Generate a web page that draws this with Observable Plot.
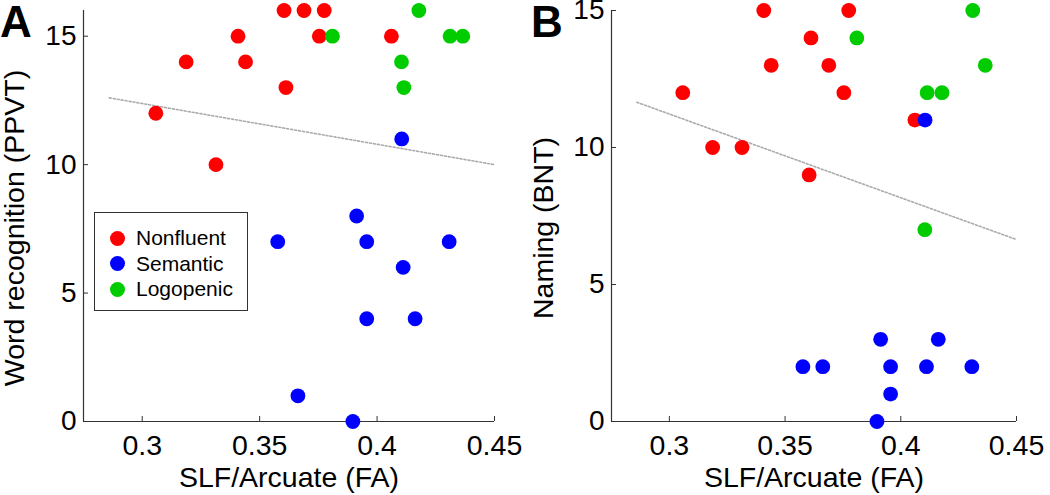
<!DOCTYPE html>
<html>
<head>
<meta charset="utf-8">
<script src="https://cdn.jsdelivr.net/npm/d3@7"></script>
<script src="https://cdn.jsdelivr.net/npm/@observablehq/plot@0.6"></script>
<style>
  html, body { margin: 0; padding: 0; background: #fff; }
  #wrap { position: relative; width: 1050px; height: 495px; display: flex; font-family: "Liberation Sans", Arial, sans-serif; }
  .letter { position: absolute; top: 0; font: bold 44px/1 "Liberation Sans", Arial, sans-serif; color: #000; }
  #legend { position: absolute; left: 94px; top: 212px; width: 152px; height: 97px; border: 1px solid #333; background: #fff; }
  .item { position: absolute; left: 15px; height: 26px; display: flex; align-items: center; font-size: 21px; color: #000; }
  .item span.sw { display: inline-block; width: 15px; height: 15px; border-radius: 50%; margin-right: 11px; }
</style>
</head>
<body>
<div id="wrap"></div>
<script>
// Groups and colours
const groups = ["Nonfluent", "Semantic", "Logopenic"];
const groupColors = ["#ff0000", "#0000ff", "#00cc00"];

// SLF/Arcuate FA per patient, by group
const nonfluentFA = [0.3058, 0.3187, 0.3314, 0.3408, 0.3440, 0.3604, 0.3612, 0.3689, 0.3754, 0.3775, 0.4061];
const semanticFA  = [0.3577, 0.3663, 0.3897, 0.3913, 0.3956, 0.3956, 0.4105, 0.4111, 0.4162, 0.4307];
const logopenicFA = [0.3810, 0.4104, 0.4114, 0.4178, 0.4311, 0.4365];

// Word recognition (PPVT)
const nonfluentPPVT = [12, 14, 10, 15, 14, 16, 13, 16, 15, 16, 15];
const semanticPPVT  = [7, 1, 0, 8, 7, 4, 11, 6, 4, 7];
const logopenicPPVT = [15, 14, 13, 16, 15, 15];

// Naming (BNT)
const nonfluentBNT = [12, 10, 10, 15, 13, 9, 14, 13, 12, 15, 11];
const semanticBNT  = [2, 2, 0, 3, 2, 1, 11, 2, 3, 2];
const logopenicBNT = [14, 7, 12, 12, 15, 13];

// Fitted trend lines (endpoints)
const trendFA   = [0.286, 0.45];
const trendPPVT = [12.6, 10.0];
const trendBNT  = [11.65, 6.64];

// Axes
const xDomain = [0.275, 0.45];
const xTicks = [0.3, 0.35, 0.4, 0.45];
const yTicks = [0, 5, 10, 15];
const xLabel = "SLF/Arcuate (FA)";

function rows(scores) {
  const groupFA = [nonfluentFA, semanticFA, logopenicFA];
  const out = [];
  groups.forEach((g, gi) => groupFA[gi].forEach((x, i) => out.push({group: g, fa: x, score: scores[gi][i]})));
  return out;
}

function panel({data, yMax, yLabel, trendY, marginLeft, marginRight, labelDx}) {
  const trend = trendFA.map((x, i) => ({fa: x, score: trendY[i]}));
  return Plot.plot({
    width: 525,
    height: 495,
    marginLeft, marginRight,
    marginTop: 10,
    marginBottom: 74,
    style: {fontFamily: "'Liberation Sans', Arial, sans-serif", fontSize: "28px", color: "#000", background: "#fff"},
    x: {domain: xDomain},
    y: {domain: [0, yMax]},
    color: {domain: groups, range: groupColors},
    marks: [
      Plot.axisX({ticks: xTicks, tickFormat: d => String(d), tickSize: -5, tickPadding: 18, stroke: "#333",
        label: xLabel, labelAnchor: "center", labelOffset: 65, labelArrow: "none", fontSize: "28.5px"}),
      Plot.axisY({ticks: yTicks, tickFormat: d => String(d), tickSize: -5, tickPadding: 12, stroke: "#333",
        label: null}),
      Plot.text([yLabel], {frameAnchor: "left", rotate: -90, dx: labelDx, dy: 12, lineAnchor: "top",
        textAnchor: "middle", fontSize: 28.5, fill: "#000"}),
      Plot.ruleY([0], {stroke: "#333", strokeWidth: 1.2}),
      Plot.ruleX([xDomain[0]], {stroke: "#333", strokeWidth: 1.2}),
      Plot.line(trend, {x: "fa", y: "score", stroke: "#ababab", strokeWidth: 1.6, strokeDasharray: "2,2"}),
      Plot.dot(data, {x: "fa", y: "score", r: 7.4, fill: "group", stroke: null})
    ]
  });
}

const wrap = document.getElementById("wrap");
wrap.appendChild(panel({
  data: rows([nonfluentPPVT, semanticPPVT, logopenicPPVT]),
  yMax: 16, yLabel: "Word recognition (PPVT)", trendY: trendPPVT, marginLeft: 83, marginRight: 31, labelDx: -80
}));
wrap.appendChild(panel({
  data: rows([nonfluentBNT, semanticBNT, logopenicBNT]),
  yMax: 15, yLabel: "Naming (BNT)", trendY: trendBNT, marginLeft: 86, marginRight: 34, labelDx: -79
}));

// Panel letters
[["A", 0], ["B", 531]].forEach(([t, left]) => {
  const d = document.createElement("div");
  d.className = "letter"; d.textContent = t; d.style.left = left + "px";
  wrap.appendChild(d);
});

// Legend
const legend = document.createElement("div");
legend.id = "legend";
groups.forEach((g, i) => {
  const it = document.createElement("div");
  it.className = "item";
  it.style.top = (12 + i * 25.5) + "px";
  const sw = document.createElement("span");
  sw.className = "sw"; sw.style.background = groupColors[i];
  it.appendChild(sw);
  it.appendChild(document.createTextNode(g));
  legend.appendChild(it);
});
wrap.appendChild(legend);
</script>
</body>
</html>
